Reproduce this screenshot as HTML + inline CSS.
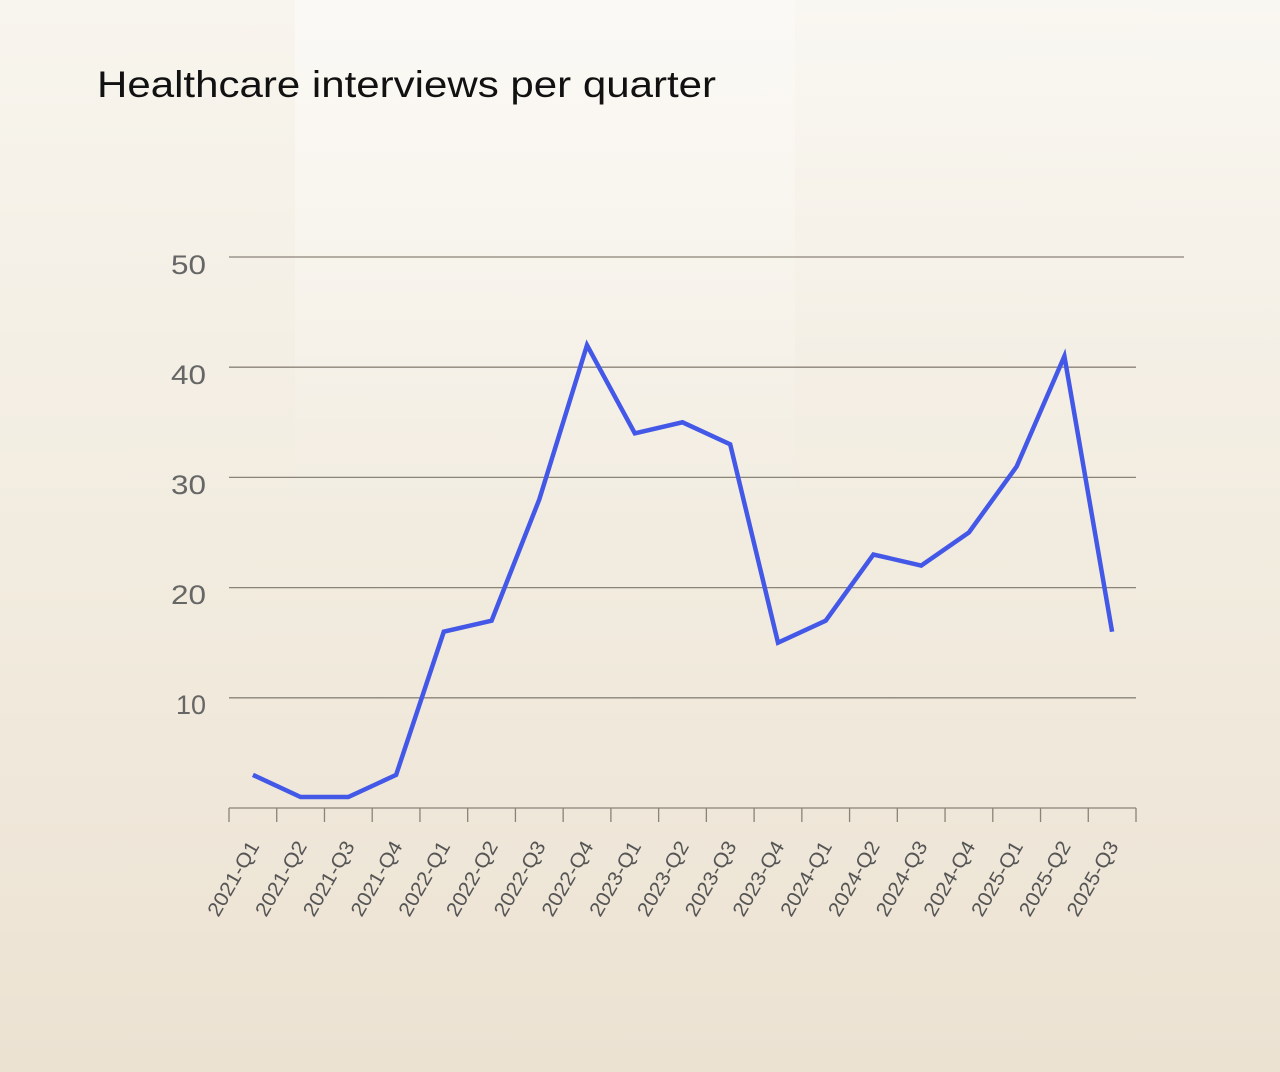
<!DOCTYPE html>
<html><head><style>
body{margin:0;}
.bg{width:1280px;height:1072px;position:relative;overflow:hidden;background:linear-gradient(180deg,#f8f5ee 0%,#f2ece0 50%,#ece2d2 100%);}
</style></head><body><div class="bg">
<div style="position:absolute;left:295px;top:0;width:500px;height:520px;background:linear-gradient(180deg,rgba(255,255,255,0.45),rgba(255,255,255,0));"></div>
<div style="position:absolute;left:795px;top:0;width:485px;height:400px;background:linear-gradient(180deg,rgba(255,255,255,0.2),rgba(255,255,255,0));"></div>
<svg width="1280" height="1072" style="position:absolute;left:0;top:0" font-family="Liberation Sans, sans-serif">
<text x="97" y="97" font-size="37" fill="#111" textLength="619" lengthAdjust="spacingAndGlyphs">Healthcare interviews per quarter</text>
<g stroke="#8a8378" stroke-width="1.3">
<line x1="229" y1="257" x2="1184" y2="257"/>
<line x1="229" y1="367.2" x2="1136" y2="367.2"/>
<line x1="229" y1="477.4" x2="1136" y2="477.4"/>
<line x1="229" y1="587.6" x2="1136" y2="587.6"/>
<line x1="229" y1="697.8" x2="1136" y2="697.8"/>
<line x1="229" y1="808" x2="1136" y2="808"/>
</g>
<g font-size="27" fill="#666" text-anchor="end">
<text x="206" y="274" textLength="35" lengthAdjust="spacingAndGlyphs">50</text><text x="206" y="384" textLength="35" lengthAdjust="spacingAndGlyphs">40</text><text x="206" y="494" textLength="35" lengthAdjust="spacingAndGlyphs">30</text><text x="206" y="604" textLength="35" lengthAdjust="spacingAndGlyphs">20</text><text x="206" y="714" textLength="30" lengthAdjust="spacingAndGlyphs">10</text>
</g>
<g id="ticks" stroke="#8a8378" stroke-width="1.3"></g>
<g id="labs" font-size="20" fill="#555" text-anchor="end"></g>
<polyline id="ln" fill="none" stroke="#4458e8" stroke-width="4.5" stroke-linejoin="miter" points=""/>
</svg>
<script>
var v=[3,1,1,3,16,17,28,42,34,35,33,15,17,23,22,25,31,41,16];
var n=["2021-Q1","2021-Q2","2021-Q3","2021-Q4","2022-Q1","2022-Q2","2022-Q3","2022-Q4","2023-Q1","2023-Q2","2023-Q3","2023-Q4","2024-Q1","2024-Q2","2024-Q3","2024-Q4","2025-Q1","2025-Q2","2025-Q3"];
var w=907/19,p=[],t="",l="";
for(var i=0;i<19;i++){var x=229+w*(i+0.5);p.push(x.toFixed(1)+","+(808-v[i]*11.02).toFixed(1));
t+='<line x1="'+(229+w*i)+'" y1="808" x2="'+(229+w*i)+'" y2="822"/>';
l+='<text transform="translate('+(x+7)+',846) rotate(-60)" textLength="83" lengthAdjust="spacingAndGlyphs">'+n[i]+'</text>';}
t+='<line x1="1136" y1="808" x2="1136" y2="822"/>';
document.getElementById("ln").setAttribute("points",p.join(" "));
document.getElementById("ticks").innerHTML=t;
document.getElementById("labs").innerHTML=l;
</script>
</div></body></html>
